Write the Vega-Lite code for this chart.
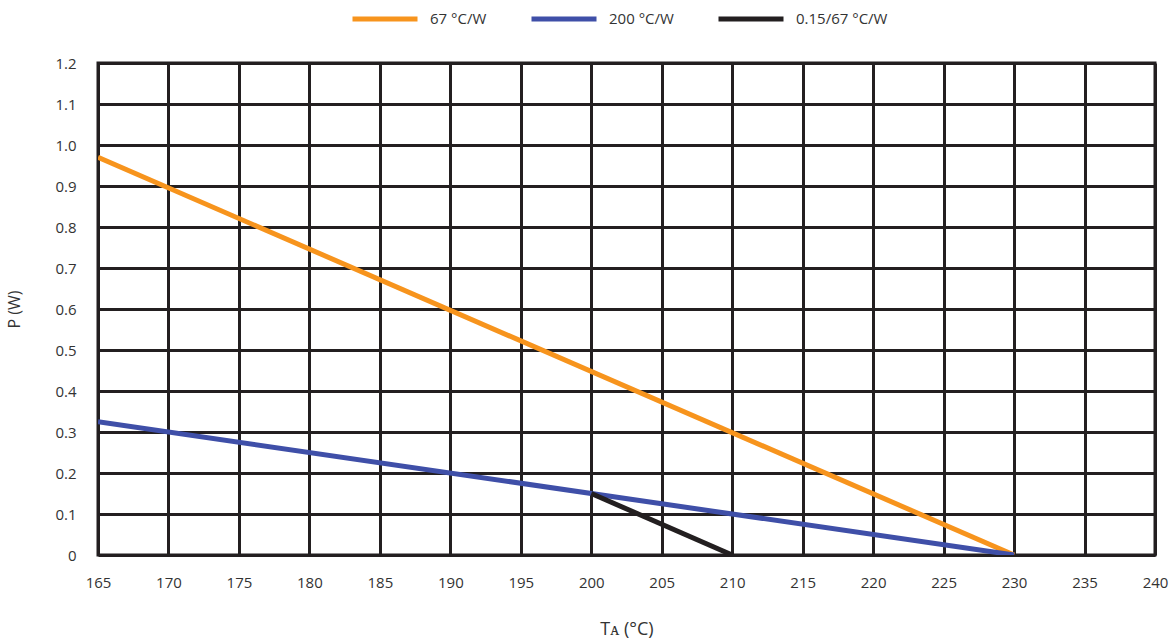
{
  "$schema": "https://vega.github.io/schema/vega-lite/v6.json",
  "autosize": "none",
  "padding": {"left": 98, "top": 63, "right": 19, "bottom": 88},
  "width": 1057,
  "height": 492,
  "background": "white",
  "config": {
    "font": "Open Sans",
    "view": {"stroke": "#231f20", "strokeWidth": 3}
  },
  "data": {
    "values": [
      {"series": "67 °C/W", "t": 165, "p": 0.97},
      {"series": "67 °C/W", "t": 230, "p": 0},
      {"series": "200 °C/W", "t": 165, "p": 0.325},
      {"series": "200 °C/W", "t": 230, "p": 0},
      {"series": "0.15/67 °C/W", "t": 200, "p": 0.15},
      {"series": "0.15/67 °C/W", "t": 210, "p": 0}
    ]
  },
  "mark": {"type": "line", "strokeWidth": 5, "clip": true},
  "encoding": {
    "x": {
      "field": "t", "type": "quantitative",
      "scale": {"domain": [165, 240], "nice": false, "zero": false},
      "axis": {
        "values": [165,170,175,180,185,190,195,200,205,210,215,220,225,230,235,240],
        "title": "Tᴀ (°C)",
        "titleFontSize": 18, "titleFontWeight": "normal", "titleColor": "#333",
        "titlePadding": 30,
        "labelFontSize": 15, "labelColor": "#333", "labelPadding": 20,
        "labelFlush": false, "labelOverlap": false,
        "ticks": false, "domain": false,
        "grid": true, "gridColor": "#231f20", "gridWidth": 3, "gridOpacity": 1
      }
    },
    "y": {
      "field": "p", "type": "quantitative",
      "scale": {"domain": [0, 1.2], "nice": false},
      "axis": {
        "values": [0,0.1,0.2,0.3,0.4,0.5,0.6,0.7,0.8,0.9,1.0,1.1,1.2],
        "labelExpr": "datum.value == 0 ? '0' : format(datum.value, '.1f')",
        "title": "P (W)",
        "titleFontSize": 16, "titleFontWeight": "normal", "titleColor": "#333",
        "titlePadding": 32,
        "labelFontSize": 15, "labelColor": "#333", "labelPadding": 22,
        "labelFlush": false, "labelOverlap": false,
        "ticks": false, "domain": false,
        "grid": true, "gridColor": "#231f20", "gridWidth": 3, "gridOpacity": 1
      }
    },
    "color": {
      "field": "series", "type": "nominal",
      "scale": {
        "domain": ["67 °C/W", "200 °C/W", "0.15/67 °C/W"],
        "range": ["#f7941d", "#3f4fa8", "#231f20"]
      },
      "legend": {
        "orient": "none",
        "legendX": 252,
        "legendY": -79,
        "direction": "horizontal",
        "title": null,
        "symbolType": "stroke",
        "symbolStrokeWidth": 5,
        "symbolSize": 4225,
        "labelFontSize": 15,
        "labelColor": "#333",
        "labelOffset": 10,
        "columnPadding": 34
      }
    }
  }
}
